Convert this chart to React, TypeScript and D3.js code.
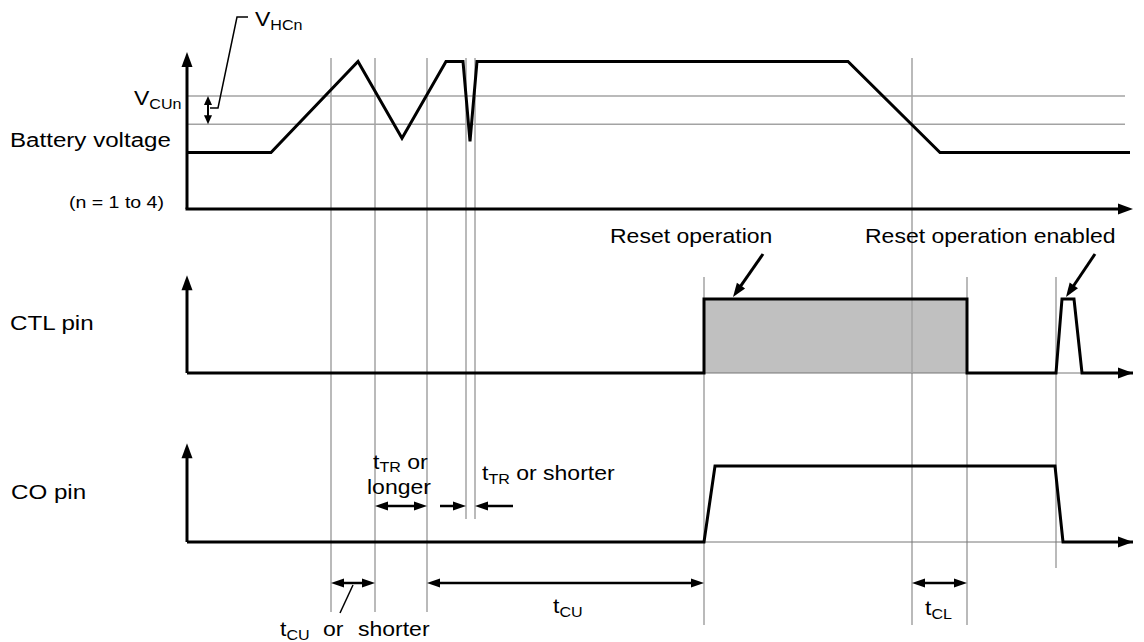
import * as d3 from "d3";

// time offsets (diagram units) where the grey guide lines stand
const guideTimes = [144, 188, 240, 279, 288, 517, 725, 780, 869];

// battery voltage waveform
const batT = [0, 84, 171, 215, 259, 276, 283, 290, 661, 753, 943];
const batV = [36, 36, 94, 45, 94, 94, 43, 94, 94, 36, 36];
const vcuLevel = 72; // V_CUn
const vhcLevel = 54; // V_CUn - V_HCn

// CTL pin
const ctlT = [0, 517, 517, 780, 780, 869, 875, 887, 895, 946];
const ctlV = [0, 0, 1, 1, 0, 0, 1, 1, 0, 0];

// CO pin
const coT = [0, 517, 528, 868, 876, 946];
const coV = [0, 0, 1, 1, 0, 0];

const W = 1144;
const H = 642;
const SX = 1.15; // horizontal stretch of the lettering
const FONT = "'Liberation Sans', Arial, Helvetica, sans-serif";
const GREY = "#a3a3a3";

const x = d3.scaleLinear().domain([0, 946]).range([187, 1133]);
const yBat = d3.scaleLinear().domain([0, 100]).range([209, 52]);
const yCtl = d3.scaleLinear().domain([0, 1]).range([373, 299]);
const yCo = d3.scaleLinear().domain([0, 1]).range([542, 466]);

function headPts(x1: number, y1: number, x2: number, y2: number, len: number, w: number) {
  const dx = x2 - x1, dy = y2 - y1;
  const d = Math.hypot(dx, dy);
  const ux = dx / d, uy = dy / d;
  const bx = x2 - ux * len, by = y2 - uy * len;
  const px = -uy * w / 2, py = ux * w / 2;
  return `${x2},${y2} ${bx + px},${by + py} ${bx - px},${by - py}`;
}

function Arrow({ x1, y1, x2, y2, start = false, end = true, len = 13, w = 9, sw = 2.5 }: any) {
  const dx = x2 - x1, dy = y2 - y1;
  const d = Math.hypot(dx, dy);
  const ux = dx / d, uy = dy / d;
  const sx = start ? x1 + ux * len * 0.8 : x1;
  const sy = start ? y1 + uy * len * 0.8 : y1;
  const ex = end ? x2 - ux * len * 0.8 : x2;
  const ey = end ? y2 - uy * len * 0.8 : y2;
  return (
    <g>
      <line x1={sx} y1={sy} x2={ex} y2={ey} stroke="#000" strokeWidth={sw} />
      {end && <polygon points={headPts(x1, y1, x2, y2, len, w)} fill="#000" />}
      {start && <polygon points={headPts(x2, y2, x1, y1, len, w)} fill="#000" />}
    </g>
  );
}

function Label({ x, y, size = 20, children }: any) {
  return (
    <text transform={`translate(${x},${y}) scale(${SX},1)`} fontSize={size} fontFamily={FONT} fill="#000">
      {children}
    </text>
  );
}

// "t" with a subscript, then optional trailing text
function Sym({ x, y, main = "t", sub, rest = "", size = 20, drop = 4 }: any) {
  return (
    <Label x={x} y={y} size={size}>
      {main}
      <tspan fontSize={size * 0.7} dy={drop}>{sub}</tspan>
      <tspan dy={-drop}>{rest}</tspan>
    </Label>
  );
}

export default function App() {
  const lineBat = d3.line<number>().x((_, i) => x(batT[i])).y((v) => yBat(v));
  const lineCtl = d3.line<number>().x((_, i) => x(ctlT[i])).y((v) => yCtl(v));
  const lineCo = d3.line<number>().x((_, i) => x(coT[i])).y((v) => yCo(v));

  // vertical extent of each guide line
  const guideSpan = (t: number): [number, number] => {
    if (t === 279 || t === 288) return [58, 519];
    if (t === 725) return [58, 625];
    if (t === 517 || t === 780) return [277, 625];
    if (t === 869) return [277, 568];
    return [58, 612];
  };

  const dimY = 583;
  const trY = 506;

  return (
    <svg width={W} height={H} style={{ position: "absolute", left: 0, top: 0, background: "#fff" }}>
      {/* guide lines */}
      {guideTimes.map((t) => {
        const [a, b] = guideSpan(t);
        return <line key={t} x1={x(t)} x2={x(t)} y1={a} y2={b} stroke={GREY} strokeWidth={1.5} />;
      })}
      {[vcuLevel, vhcLevel].map((v) => (
        <line key={v} x1={x(0)} x2={x(938)} y1={yBat(v)} y2={yBat(v)} stroke={GREY} strokeWidth={1.5} />
      ))}

      {/* CTL reset box */}
      <rect x={x(517)} y={yCtl(1)} width={x(780) - x(517)} height={yCtl(0) - yCtl(1)} fill="#c0c0c0" />
      <line x1={x(517)} x2={x(946)} y1={yCtl(0)} y2={yCtl(0)} stroke="#777" strokeWidth={1} />
      <line x1={x(517)} x2={x(946)} y1={yCo(0)} y2={yCo(0)} stroke="#777" strokeWidth={1} />
      {/* re-draw guide lines crossing the box */}
      {guideTimes.filter((t) => t > 517 && t < 780).map((t) => (
        <line key={"b" + t} x1={x(t)} x2={x(t)} y1={yCtl(1)} y2={yCtl(0)} stroke={GREY} strokeWidth={1.5} />
      ))}

      {/* battery axes */}
      <Arrow x1={x(0)} y1={yBat(0)} x2={x(0)} y2={yBat(100)} len={15} w={11} sw={3} />
      <Arrow x1={x(0) - 1.5} y1={yBat(0)} x2={x(946)} y2={yBat(0)} len={15} w={11} sw={3} />
      <path d={lineBat(batV) || ""} fill="none" stroke="#000" strokeWidth={3} strokeLinejoin="miter" />

      {/* CTL axes and waveform */}
      <Arrow x1={x(0)} y1={yCtl(0)} x2={x(0)} y2={yCtl(1.32)} len={15} w={11} sw={3} />
      <path d={lineCtl(ctlV) || ""} fill="none" stroke="#000" strokeWidth={3} />
      <polygon points={headPts(x(900), yCtl(0), x(946), yCtl(0), 15, 11)} fill="#000" />

      {/* CO axes and waveform */}
      <Arrow x1={x(0)} y1={yCo(0)} x2={x(0)} y2={yCo(1.3)} len={15} w={11} sw={3} />
      <path d={lineCo(coV) || ""} fill="none" stroke="#000" strokeWidth={3} />
      <polygon points={headPts(x(900), yCo(0), x(946), yCo(0), 15, 11)} fill="#000" />

      {/* V_HCn hysteresis marker */}
      <Arrow x1={x(21)} y1={yBat(vcuLevel)} x2={x(21)} y2={yBat(vhcLevel)} start end len={9} w={8} sw={2} />
      <polyline points="248,17 237,17 218,108 210,108" fill="none" stroke="#000" strokeWidth={1.5} />
      <Sym x={255} y={26} main="V" sub="HCn" size={20} />
      <Sym x={134} y={105} main="V" sub="CUn" size={20} />

      {/* row labels */}
      <Label x={10} y={147} size={21}>Battery voltage</Label>
      <Label x={69} y={208} size={17}>(n = 1 to 4)</Label>
      <Label x={10} y={330} size={21}>CTL pin</Label>
      <Label x={11} y={499} size={21}>CO pin</Label>

      {/* reset annotations */}
      <Label x={610} y={243} size={20}>Reset operation</Label>
      <Arrow x1={763} y1={254} x2={x(546)} y2={297} len={14} w={10} sw={3} />
      <Label x={865} y={243} size={20}>Reset operation enabled</Label>
      <Arrow x1={1095} y1={254} x2={x(879)} y2={297} len={14} w={10} sw={3} />

      {/* t_TR dimensions */}
      <Sym x={373} y={469} sub="TR" rest=" or" drop={3} />
      <Label x={367} y={494} size={20}>longer</Label>
      <Arrow x1={x(188)} y1={trY} x2={x(240)} y2={trY} start end />
      <Arrow x1={x(253)} y1={trY} x2={x(279)} y2={trY} />
      <Arrow x1={x(326)} y1={trY} x2={x(288)} y2={trY} />
      <Sym x={482} y={480} sub="TR" rest=" or shorter" />

      {/* bottom dimensions */}
      <Arrow x1={x(144)} y1={dimY} x2={x(188)} y2={dimY} start end />
      <line x1={353} y1={585} x2={340} y2={613} stroke="#000" strokeWidth={1.5} />
      <Sym x={280} y={636} sub="CU" />
      <Label x={323} y={636} size={20}>or</Label>
      <Label x={358} y={636} size={20}>shorter</Label>

      <Arrow x1={x(240)} y1={dimY} x2={x(517)} y2={dimY} start end />
      <Sym x={553} y={613} sub="CU" />

      <Arrow x1={x(725)} y1={dimY} x2={x(780)} y2={dimY} start end />
      <Sym x={925} y={615} sub="CL" />
    </svg>
  );
}
